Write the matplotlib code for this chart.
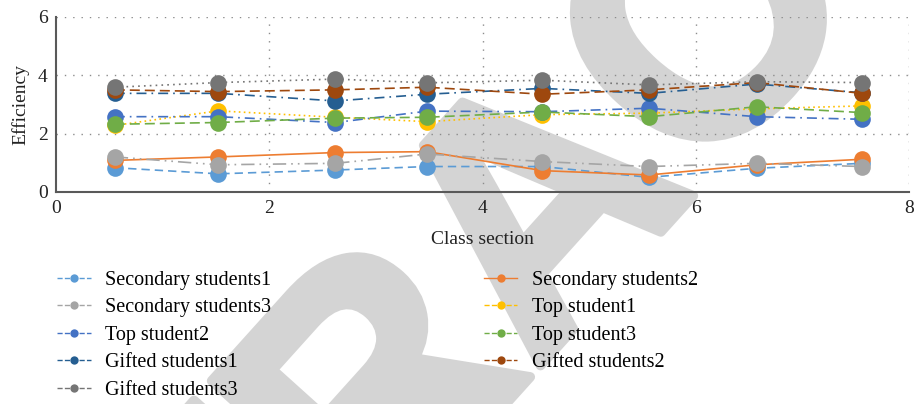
import matplotlib
matplotlib.use("Agg")
import matplotlib.pyplot as plt
import matplotlib.patheffects as pe

# class sections along x
sections = [0.55, 1.52, 2.62, 3.48, 4.56, 5.56, 6.57, 7.56]

secondary1 = [0.83, 0.62, 0.75, 0.87, 0.87, 0.50, 0.81, 0.98]
secondary2 = [1.08, 1.20, 1.35, 1.38, 0.73, 0.58, 0.93, 1.12]
secondary3 = [1.20, 0.93, 0.98, 1.30, 1.04, 0.87, 0.98, 0.87]
top1 = [2.28, 2.78, 2.56, 2.41, 2.65, 2.70, 2.85, 2.95]
top2 = [2.58, 2.58, 2.38, 2.77, 2.75, 2.87, 2.58, 2.49]
top3 = [2.32, 2.38, 2.53, 2.56, 2.74, 2.58, 2.92, 2.72]
gifted1 = [3.38, 3.38, 3.12, 3.35, 3.55, 3.38, 3.70, 3.40]
gifted2 = [3.50, 3.44, 3.50, 3.59, 3.35, 3.50, 3.75, 3.38]
gifted3 = [3.59, 3.75, 3.87, 3.74, 3.83, 3.67, 3.78, 3.75]

series = [
    ("Secondary students1", secondary1, "#5B9BD5", (0, (5, 3))),
    ("Secondary students2", secondary2, "#ED7D31", "-"),
    ("Secondary students3", secondary3, "#A5A5A5", (0, (8, 3, 1, 3, 1, 3))),
    ("Top student1", top1, "#FFC000", (0, (1, 2))),
    ("Top student2", top2, "#4472C4", (0, (6, 3, 1, 3))),
    ("Top student3", top3, "#70AD47", (0, (6, 3))),
    ("Gifted students1", gifted1, "#255E91", (0, (6, 3, 1, 3))),
    ("Gifted students2", gifted2, "#9E480E", (0, (6, 3))),
    ("Gifted students3", gifted3, "#757575", (0, (1, 2.5))),
]

plt.rcParams["font.family"] = ["Liberation Serif", "DejaVu Serif"]

fig = plt.figure(figsize=(9.21, 4.04), dpi=100)
ax = fig.add_axes([0.061, 0.525, 0.926, 0.433])
ax.patch.set_alpha(0)

# big grey stamp behind the plot
fig.text(552 / 921, 1 - 222 / 404, "RETRACTED", rotation=48, fontsize=245,
         family="Liberation Sans", fontweight="bold", color="#d4d4d4",
         ha="center", va="center", zorder=-1,
         path_effects=[pe.withStroke(linewidth=7, foreground="#d4d4d4")])

lines = {}
for name, vals, color, ls in series:
    (ln,) = ax.plot(sections, vals, color=color, linestyle=ls, linewidth=1.2,
                    marker="o", markersize=12, markeredgewidth=0, label=name)
    lines[name] = ln

ax.set_xlim(0, 8)
ax.set_ylim(0, 6)
ax.set_xticks([0, 2, 4, 6, 8])
ax.set_yticks([0, 2, 4, 6])
ax.tick_params(length=0, labelsize=14, colors="#222222", pad=6)
for side in ["top", "right"]:
    ax.spines[side].set_visible(False)
for side in ["left", "bottom"]:
    ax.spines[side].set_color("#595959")
    ax.spines[side].set_linewidth(1.5)
ax.grid(True, color="#8c8c8c", linestyle=(0, (1, 5)), linewidth=1)
for gl in ax.get_xgridlines()[:1] + ax.get_ygridlines()[:1]:
    gl.set_visible(False)

ax.set_xlabel("Class section", fontsize=14, color="#222222", labelpad=10)
ax.set_ylabel("Efficiency", fontsize=14, color="#222222", labelpad=6)

order = ["Secondary students1", "Secondary students3", "Top student2",
         "Gifted students1", "Gifted students3", "Secondary students2",
         "Top student1", "Top student3", "Gifted students2"]
leg_handles = []
for name in order:
    src = lines[name]
    h, = ax.plot([], [], color=src.get_color(), linestyle=src.get_linestyle(),
                 linewidth=1.0, marker="o", markersize=6, markeredgewidth=0)
    leg_handles.append(h)

fig.legend(leg_handles, order, loc="upper left", bbox_to_anchor=(0.0535, 0.350),
           ncol=2, frameon=False, fontsize=14.5, handlelength=1.65,
           handletextpad=0.7, columnspacing=10.6, labelspacing=0.42,
           borderaxespad=0)

fig.savefig("out.png", dpi=100)
